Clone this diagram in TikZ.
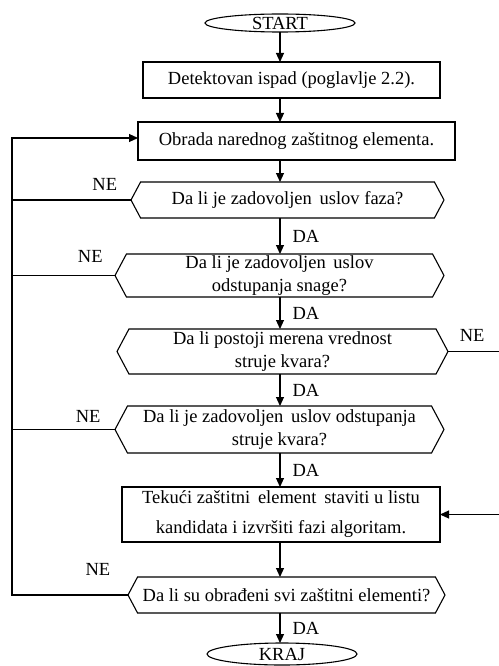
\documentclass[tikz,border=0pt]{standalone}
\usepackage{fontspec}
\setmainfont{Liberation Serif}
\usetikzlibrary{arrows.meta,positioning,shapes.geometric,shapes.symbols}
\newcommand{\flowfont}{\fontsize{18.5}{23}\selectfont}
\tikzset{
  term/.style={ellipse,draw,line width=1.1pt,inner sep=0pt,outer sep=0pt,
               minimum width=150pt,minimum height=18pt,font=\flowfont},
  stepbox/.style={rectangle,draw,line width=1.1pt,align=center,
                  inner sep=2pt,outer sep=0pt,font=\flowfont},
  test/.style={signal,signal to=west and east,signal pointer angle=124,
               draw,line width=1.1pt,align=center,inner sep=1pt,outer sep=0pt,
               font=\flowfont},
  fl/.style={-{Triangle[length=9pt,width=8pt]},line width=1.1pt},
  ln/.style={line width=1.1pt},
  lbl/.style={font=\flowfont,inner sep=2pt}
}

\begin{document}
\begin{tikzpicture}[x=1pt,y=-1pt]
  \useasboundingbox (0,0) rectangle (498,666);
  \node[term] (start) at (280,23) {START};
  \node[stepbox,minimum width=297pt,minimum height=36pt,below=30pt of start,xshift=11.5pt] (det) {Detektovan ispad (poglavlje 2.2).};
  \node[stepbox,minimum width=317pt,minimum height=38pt,below=24pt of det,xshift=5pt] (obr) {Obrada narednog zaštitnog elementa.};
  \node[test,minimum width=313pt,minimum height=36pt,below=22pt of obr,xshift=-9pt] (faza) {Da li je zadovoljen\, uslov faza?};
  \node[test,minimum width=329pt,minimum height=43pt,below=36pt of faza,xshift=-8pt] (snaga) {Da li je zadovoljen\, uslov\\odstupanja snage?};
  \node[test,minimum width=331pt,minimum height=45pt,below=32pt of snaga,xshift=3pt] (mer) {Da li postoji merena vrednost\\struje kvara?};
  \node[test,minimum width=329pt,minimum height=47pt,below=32pt of mer,xshift=-3pt] (struja) {Da li je zadovoljen\, uslov odstupanja\\struje kvara?};
  \node[stepbox,minimum width=318pt,minimum height=55pt,below=34pt of struja,xshift=1.5pt] (kand) {Tekući zaštitni\, element\, staviti u listu\\[7pt]kandidata i izvršiti fazi algoritam.};
  \node[test,minimum width=317pt,minimum height=36pt,below=35pt of kand,xshift=5.5pt] (svi) {Da li su obrađeni svi zaštitni elementi?};
  \node[term,minimum height=22pt,below=30pt of svi,xshift=-4.5pt] (kraj) {KRAJ};

  % glavni tok
  \coordinate (lft) at (12,0);
  \coordinate (rgt) at (499.5,0);
  \draw[fl] (start.south) -- (det.north -| start);
  \draw[fl] (det.south -| start) -- (obr.north -| start);
  \draw[fl] (obr.south -| start) -- (faza.north -| start);
  \draw[fl] (faza.south -| start) -- node[lbl,right=10pt] {DA} (snaga.north -| start);
  \draw[fl] (snaga.south -| start) -- node[lbl,right=10pt] {DA} (mer.north -| start);
  \draw[fl] (mer.south -| start) -- node[lbl,right=10pt] {DA} (struja.north -| start);
  \draw[fl] (struja.south -| start) -- node[lbl,right=10pt] {DA} (kand.north -| start);
  \draw[fl] (kand.south -| start) -- (svi.north -| start);
  \draw[fl] (svi.south -| start) -- node[lbl,right=10pt] {DA} (kraj.north -| start);

  % grane NE
  \draw[ln] (faza.west) -- node[lbl,above=7pt,pos=0.22] {NE} (faza.west -| lft);
  \draw[ln] (snaga.west) -- node[lbl,above=10pt,pos=0.24] {NE} (snaga.west -| lft);
  \draw[ln] (struja.west) -- node[lbl,above=4pt,pos=0.26] {NE} (struja.west -| lft);
  \draw[fl] (svi.west) -- node[lbl,above=17pt,pos=0.26] {NE} (svi.west -| lft) |- ([yshift=3pt]obr.west);
  \draw[fl] (mer.east) -- node[lbl,above=7pt,pos=0.47] {NE} (mer.east -| rgt) |- (kand.east);
\end{tikzpicture}
\end{document}
